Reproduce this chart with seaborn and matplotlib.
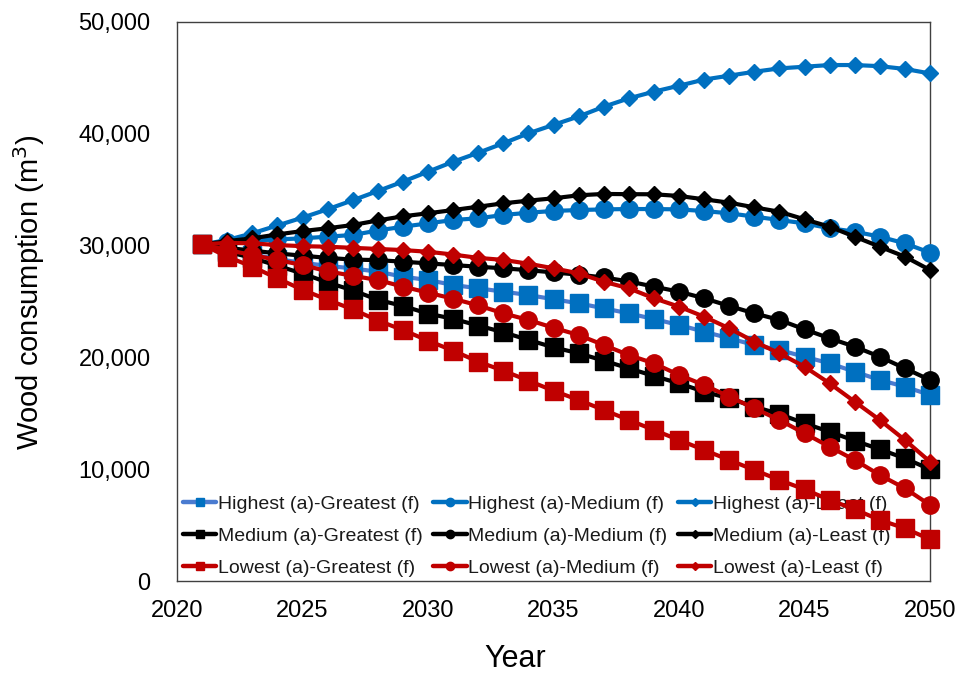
import matplotlib
matplotlib.use("Agg")
import matplotlib.pyplot as plt
from matplotlib.lines import Line2D
from matplotlib.ticker import FuncFormatter, MultipleLocator
import seaborn as sns
import pandas as pd

years = list(range(2021, 2051))

highest_greatest = [30100, 29600, 29200, 28800, 28450, 28200, 27950, 27670, 27220, 26920,
                    26480, 26180, 25880, 25580, 25200, 24840, 24390, 23940, 23430, 22900,
                    22300, 21710, 21110, 20660, 20060, 19470, 18720, 17980, 17380, 16640]
highest_medium = [30100, 30300, 30450, 30550, 30650, 30800, 30950, 31350, 31690, 31990,
                  32290, 32440, 32740, 32940, 33100, 33180, 33240, 33270, 33270, 33240,
                  33090, 32890, 32590, 32290, 31990, 31550, 31250, 30800, 30200, 29370]
highest_least = [30100, 30500, 31100, 31800, 32500, 33250, 34050, 34880, 35720, 36610,
                 37500, 38300, 39150, 40040, 40800, 41550, 42420, 43170, 43770, 44300,
                 44850, 45200, 45550, 45850, 46000, 46150, 46150, 46050, 45800, 45400]
medium_greatest = [30100, 29450, 28900, 28200, 27500, 26700, 26000, 25150, 24600, 23920,
                   23450, 22850, 22250, 21560, 20900, 20370, 19710, 19020, 18340, 17680,
                   16930, 16340, 15590, 14940, 14100, 13350, 12550, 11780, 10970, 9990]
medium_medium = [30100, 29800, 29550, 29300, 29100, 28900, 28750, 28700, 28560, 28410,
                 28260, 28110, 27970, 27800, 27600, 27400, 27150, 26800, 26330, 25880,
                 25290, 24600, 23940, 23350, 22510, 21710, 20960, 20060, 19020, 17980]
medium_least = [30100, 30400, 30650, 31000, 31300, 31550, 31840, 32250, 32620, 32890,
                33180, 33480, 33780, 34020, 34230, 34500, 34620, 34600, 34590, 34440,
                34140, 33840, 33420, 33030, 32350, 31690, 30800, 29900, 29010, 27820]
lowest_greatest = [30100, 29010, 28110, 27070, 26050, 25150, 24300, 23300, 22450, 21500,
                   20600, 19620, 18810, 17920, 17020, 16190, 15300, 14400, 13510, 12610,
                   11720, 10820, 9930, 9030, 8200, 7250, 6410, 5460, 4710, 3730]
lowest_medium = [30100, 29600, 29160, 28710, 28260, 27700, 27300, 26920, 26330, 25790,
                 25250, 24650, 23940, 23350, 22650, 22000, 21110, 20210, 19470, 18430,
                 17530, 16490, 15450, 14400, 13210, 12010, 10820, 9480, 8290, 6800]
lowest_least = [30100, 30250, 30200, 30050, 29950, 29900, 29800, 29700, 29600, 29450,
                29200, 28900, 28720, 28380, 27970, 27520, 26770, 26180, 25290, 24540,
                23640, 22600, 21410, 20370, 19170, 17680, 16040, 14400, 12610, 10670]

series_names = [
    "Highest (a)-Greatest (f)", "Highest (a)-Medium (f)", "Highest (a)-Least (f)",
    "Medium (a)-Greatest (f)", "Medium (a)-Medium (f)", "Medium (a)-Least (f)",
    "Lowest (a)-Greatest (f)", "Lowest (a)-Medium (f)", "Lowest (a)-Least (f)",
]
series_values = [
    highest_greatest, highest_medium, highest_least,
    medium_greatest, medium_medium, medium_least,
    lowest_greatest, lowest_medium, lowest_least,
]

BLUE = "#0070C0"
BLUE_LINE = "#4A7BD0"
RED = "#C00000"
BLACK = "#000000"

# (line colour, marker colour, marker, marker size)
styles = {
    "Highest (a)-Greatest (f)": (BLUE_LINE, BLUE, "s", 12.5),
    "Highest (a)-Medium (f)": (BLUE, BLUE, "o", 12.5),
    "Highest (a)-Least (f)": (BLUE, BLUE, "D", 8.5),
    "Medium (a)-Greatest (f)": (BLACK, BLACK, "s", 12.5),
    "Medium (a)-Medium (f)": (BLACK, BLACK, "o", 12.5),
    "Medium (a)-Least (f)": (BLACK, BLACK, "D", 8.5),
    "Lowest (a)-Greatest (f)": (RED, RED, "s", 12.5),
    "Lowest (a)-Medium (f)": (RED, RED, "o", 12.5),
    "Lowest (a)-Least (f)": (RED, RED, "D", 8.0),
}

df = pd.DataFrame({"Year": years * len(series_names)})
df["Scenario"] = [n for n in series_names for _ in years]
df["Consumption"] = [v for vals in series_values for v in vals]

sns.set_theme(style="white")
plt.rcParams["font.family"] = ["Liberation Sans", "DejaVu Sans"]
plt.rcParams["text.color"] = "#000000"

fig = plt.figure(figsize=(9.59, 6.75), dpi=100)
ax = fig.add_axes([177 / 959, 94 / 675, 753 / 959, 559 / 675])

for name in series_names:
    line_c, mark_c, mk, ms = styles[name]
    sub = df[df["Scenario"] == name]
    sns.lineplot(data=sub, x="Year", y="Consumption", ax=ax, color=line_c,
                 linewidth=3.0, marker=mk, markersize=ms,
                 markerfacecolor=mark_c, markeredgecolor=mark_c,
                 markeredgewidth=1, legend=False, clip_on=False, zorder=3)

ax.set_xlim(2020, 2050)
ax.set_ylim(0, 50000)
ax.xaxis.set_major_locator(MultipleLocator(5))
ax.yaxis.set_major_locator(MultipleLocator(10000))
ax.yaxis.set_major_formatter(FuncFormatter(lambda v, p: f"{int(v):,}"))
ax.tick_params(axis="both", length=0, labelsize=17, colors="#000000")
ax.tick_params(axis="x", pad=14)
ax.tick_params(axis="y", pad=19)

for side in ["left", "right", "top", "bottom"]:
    ax.spines[side].set_visible(True)
    ax.spines[side].set_color("#404040")
    ax.spines[side].set_linewidth(1.0)
    ax.spines[side].set_zorder(2)

ax.set_xlabel("Year", fontsize=22, color="#000000")
ax.set_ylabel("Wood consumption (m$^3$)", fontsize=21, color="#000000")
ax.xaxis.set_label_coords((515 - 177) / 753, (581 - 644) / 559)
ax.yaxis.set_label_coords((47 - 177) / 753, (581 - 292) / 559)

# legend in three columns, filled row by row
order = [0, 3, 6, 1, 4, 7, 2, 5, 8]
handles, labels = [], []
for i in order:
    name = series_names[i]
    line_c, mark_c, mk, ms = styles[name]
    handles.append(Line2D([0], [0], color=line_c, lw=3.2, marker=mk,
                          markersize=6 if mk != "D" else 4.5,
                          markerfacecolor=mark_c, markeredgecolor=mark_c))
    labels.append(name)
leg = ax.legend(handles, labels, ncol=3, loc="upper left",
                bbox_to_anchor=(6 / 753, (581 - 495) / 559), frameon=False,
                fontsize=14, handlelength=1.7, handletextpad=0.1,
                columnspacing=0.55, labelspacing=0.74, borderpad=0, borderaxespad=0)
leg.set_zorder(1)
for t in leg.get_texts():
    t.set_color("#1a1a1a")

fig.savefig("out.png", dpi=100, facecolor="white")
